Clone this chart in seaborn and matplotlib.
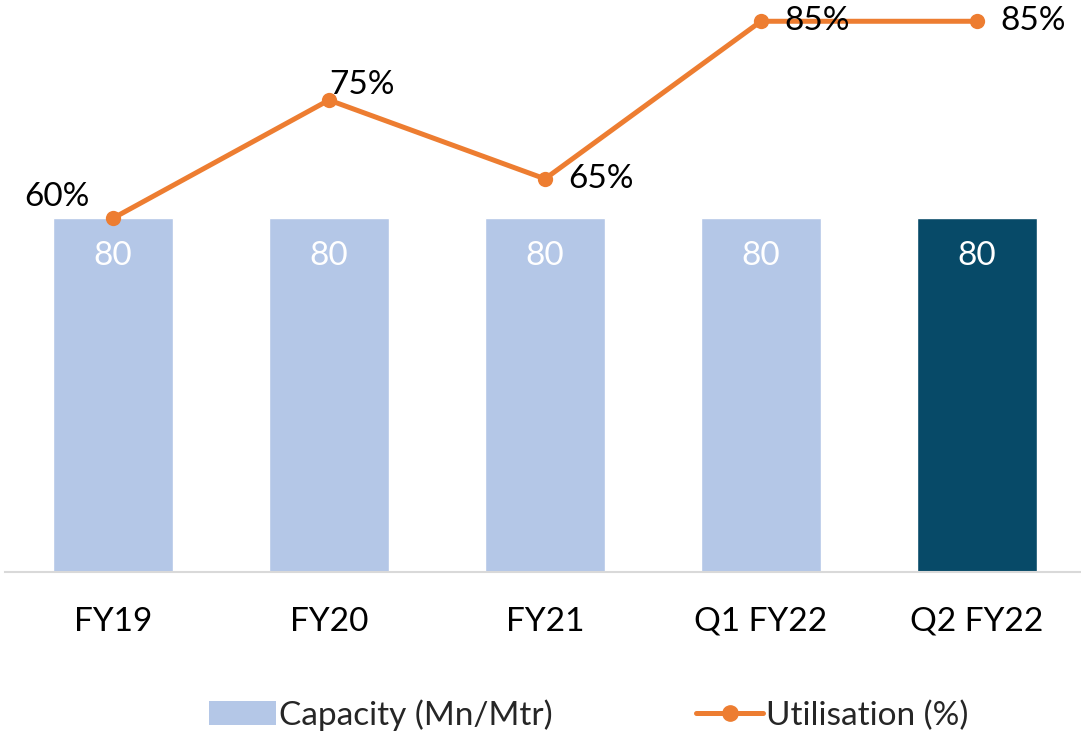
import matplotlib
matplotlib.use("Agg")
import matplotlib.pyplot as plt
import seaborn as sns
import pandas as pd
from matplotlib.patches import Patch
from matplotlib.lines import Line2D

categories = ["FY19", "FY20", "FY21", "Q1 FY22", "Q2 FY22"]
capacity = [80, 80, 80, 80, 80]
utilisation = [60, 75, 65, 85, 85]
bar_colors = ["#B4C7E7", "#B4C7E7", "#B4C7E7", "#B4C7E7", "#074A68"]
line_color = "#ED7D31"

sns.set_theme(style="white")
plt.rcParams["font.family"] = ["Lato", "DejaVu Sans"]
FS = 24

fig = plt.figure(figsize=(10.81, 7.36), dpi=100)
ax = fig.add_axes([5 / 1081, 164 / 736, 1080 / 1081, 572 / 736])

df = pd.DataFrame({"cat": categories, "cap": capacity})
sns.barplot(data=df, x="cat", y="cap", hue="cat", palette=bar_colors,
            width=0.56, legend=False, ax=ax, saturation=1)
ax.set_ylim(0, 129.3)
ax.set_xlim(-0.5, 4.5)
for i, v in enumerate(capacity):
    ax.annotate(f"{v}", xy=(i, v), xytext=(0, -27), textcoords="offset points",
                ha="center", va="center", color="white", fontsize=FS)

for s in ["top", "right", "left"]:
    ax.spines[s].set_visible(False)
ax.spines["bottom"].set_color("#D9D9D9")
ax.spines["bottom"].set_linewidth(1.5)
ax.set_yticks([])
ax.set_xlabel("")
ax.set_ylabel("")
ax.tick_params(axis="x", length=0, pad=25, labelsize=FS, colors="black")

ax2 = ax.twinx()
ax2.set_ylim(15.1, 87.7)
sns.lineplot(x=list(range(len(categories))), y=utilisation, ax=ax2, color=line_color,
             linewidth=3.6, marker="o", markersize=11, markeredgewidth=0, legend=False)
for s in ax2.spines.values():
    s.set_visible(False)
ax2.set_yticks([])
ax2.set_ylabel("")

offsets = [(-17, 15, "right"), (0, 11, "left"), (17, 0, "left"), (17, 0, "left"), (17, 0, "left")]
for i, v in enumerate(utilisation):
    dx, dy, ha = offsets[i]
    ax2.annotate(f"{v}%", xy=(i, v), xytext=(dx, dy), textcoords="offset points",
                 ha=ha, va="center", fontsize=FS, color="black")

handles = [Patch(facecolor="#B4C7E7", edgecolor="none"),
           Line2D([0], [0], color=line_color, linewidth=3.6, marker="o", markersize=11)]
fig.legend(handles, ["Capacity (Mn/Mtr)", "Utilisation (%)"], loc="center",
           bbox_to_anchor=(0.545, 21 / 736), ncol=2, frameon=False, fontsize=FS,
           handlelength=2.0, handletextpad=0.1, columnspacing=4.3)

fig.savefig("out.png", dpi=100)
